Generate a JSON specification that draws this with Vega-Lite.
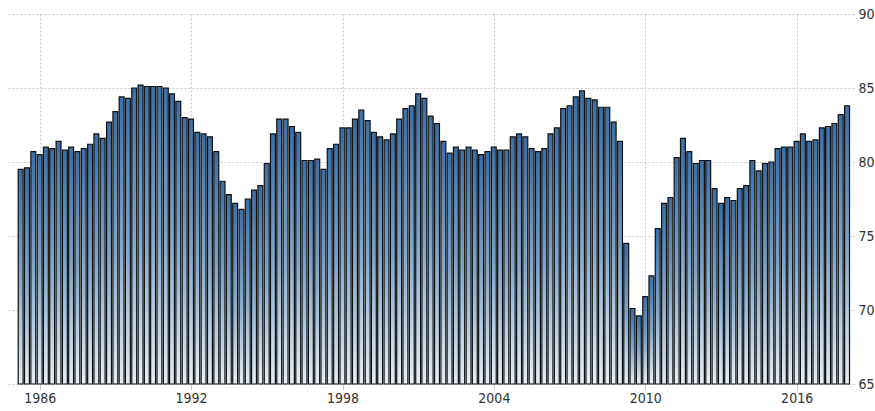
{
  "$schema": "https://vega.github.io/schema/vega-lite/v6.json",
  "autosize": {"type": "none"},
  "padding": {"left": 8, "top": 14, "right": 21, "bottom": 27},
  "width": 846,
  "height": 370,
  "background": "white",
  "config": {"view": {"stroke": null}},
  "data": {"values": [
    {"date":"1985-03-31","value":79.5},{"date":"1985-06-30","value":79.6},{"date":"1985-09-30","value":80.7},{"date":"1985-12-31","value":80.5},
    {"date":"1986-03-31","value":81.0},{"date":"1986-06-30","value":80.9},{"date":"1986-09-30","value":81.4},{"date":"1986-12-31","value":80.8},
    {"date":"1987-03-31","value":81.0},{"date":"1987-06-30","value":80.7},{"date":"1987-09-30","value":80.9},{"date":"1987-12-31","value":81.2},
    {"date":"1988-03-31","value":81.9},{"date":"1988-06-30","value":81.6},{"date":"1988-09-30","value":82.7},{"date":"1988-12-31","value":83.4},
    {"date":"1989-03-31","value":84.4},{"date":"1989-06-30","value":84.3},{"date":"1989-09-30","value":85.0},{"date":"1989-12-31","value":85.2},
    {"date":"1990-03-31","value":85.1},{"date":"1990-06-30","value":85.1},{"date":"1990-09-30","value":85.1},{"date":"1990-12-31","value":85.0},
    {"date":"1991-03-31","value":84.6},{"date":"1991-06-30","value":84.1},{"date":"1991-09-30","value":83.0},{"date":"1991-12-31","value":82.9},
    {"date":"1992-03-31","value":82.0},{"date":"1992-06-30","value":81.9},{"date":"1992-09-30","value":81.7},{"date":"1992-12-31","value":80.7},
    {"date":"1993-03-31","value":78.7},{"date":"1993-06-30","value":77.8},{"date":"1993-09-30","value":77.2},{"date":"1993-12-31","value":76.8},
    {"date":"1994-03-31","value":77.5},{"date":"1994-06-30","value":78.1},{"date":"1994-09-30","value":78.4},{"date":"1994-12-31","value":79.9},
    {"date":"1995-03-31","value":81.9},{"date":"1995-06-30","value":82.9},{"date":"1995-09-30","value":82.9},{"date":"1995-12-31","value":82.4},
    {"date":"1996-03-31","value":82.0},{"date":"1996-06-30","value":80.1},{"date":"1996-09-30","value":80.1},{"date":"1996-12-31","value":80.2},
    {"date":"1997-03-31","value":79.5},{"date":"1997-06-30","value":80.9},{"date":"1997-09-30","value":81.2},{"date":"1997-12-31","value":82.3},
    {"date":"1998-03-31","value":82.3},{"date":"1998-06-30","value":82.9},{"date":"1998-09-30","value":83.5},{"date":"1998-12-31","value":82.8},
    {"date":"1999-03-31","value":82.0},{"date":"1999-06-30","value":81.7},{"date":"1999-09-30","value":81.5},{"date":"1999-12-31","value":81.9},
    {"date":"2000-03-31","value":82.9},{"date":"2000-06-30","value":83.6},{"date":"2000-09-30","value":83.8},{"date":"2000-12-31","value":84.6},
    {"date":"2001-03-31","value":84.3},{"date":"2001-06-30","value":83.1},{"date":"2001-09-30","value":82.6},{"date":"2001-12-31","value":81.4},
    {"date":"2002-03-31","value":80.6},{"date":"2002-06-30","value":81.0},{"date":"2002-09-30","value":80.8},{"date":"2002-12-31","value":81.0},
    {"date":"2003-03-31","value":80.8},{"date":"2003-06-30","value":80.5},{"date":"2003-09-30","value":80.7},{"date":"2003-12-31","value":81.0},
    {"date":"2004-03-31","value":80.8},{"date":"2004-06-30","value":80.8},{"date":"2004-09-30","value":81.7},{"date":"2004-12-31","value":81.9},
    {"date":"2005-03-31","value":81.7},{"date":"2005-06-30","value":80.9},{"date":"2005-09-30","value":80.7},{"date":"2005-12-31","value":80.9},
    {"date":"2006-03-31","value":81.9},{"date":"2006-06-30","value":82.3},{"date":"2006-09-30","value":83.6},{"date":"2006-12-31","value":83.8},
    {"date":"2007-03-31","value":84.4},{"date":"2007-06-30","value":84.8},{"date":"2007-09-30","value":84.3},{"date":"2007-12-31","value":84.2},
    {"date":"2008-03-31","value":83.7},{"date":"2008-06-30","value":83.7},{"date":"2008-09-30","value":82.7},{"date":"2008-12-31","value":81.4},
    {"date":"2009-03-31","value":74.5},{"date":"2009-06-30","value":70.1},{"date":"2009-09-30","value":69.6},{"date":"2009-12-31","value":70.9},
    {"date":"2010-03-31","value":72.3},{"date":"2010-06-30","value":75.5},{"date":"2010-09-30","value":77.2},{"date":"2010-12-31","value":77.6},
    {"date":"2011-03-31","value":80.3},{"date":"2011-06-30","value":81.6},{"date":"2011-09-30","value":80.7},{"date":"2011-12-31","value":79.9},
    {"date":"2012-03-31","value":80.1},{"date":"2012-06-30","value":80.1},{"date":"2012-09-30","value":78.2},{"date":"2012-12-31","value":77.2},
    {"date":"2013-03-31","value":77.6},{"date":"2013-06-30","value":77.4},{"date":"2013-09-30","value":78.2},{"date":"2013-12-31","value":78.4},
    {"date":"2014-03-31","value":80.1},{"date":"2014-06-30","value":79.4},{"date":"2014-09-30","value":79.9},{"date":"2014-12-31","value":80.0},
    {"date":"2015-03-31","value":80.9},{"date":"2015-06-30","value":81.0},{"date":"2015-09-30","value":81.0},{"date":"2015-12-31","value":81.4},
    {"date":"2016-03-31","value":81.9},{"date":"2016-06-30","value":81.4},{"date":"2016-09-30","value":81.5},{"date":"2016-12-31","value":82.3},
    {"date":"2017-03-31","value":82.4},{"date":"2017-06-30","value":82.6},{"date":"2017-09-30","value":83.2},{"date":"2017-12-31","value":83.8}
  ]},
  "mark": {
    "type": "bar",
    "width": 4.9,
    "stroke": "#111111",
    "strokeWidth": 1.2,
    "fill": {
      "gradient": "linear",
      "x1": 0, "y1": 0, "x2": 0, "y2": 1,
      "stops": [
        {"offset": 0, "color": "#3a6ea6"},
        {"offset": 0.5, "color": "#7fa6cb"},
        {"offset": 1, "color": "#e6eef6"}
      ]
    }
  },
  "encoding": {
    "x": {
      "field": "date",
      "type": "temporal",
      "title": null,
      "scale": {
        "type": "utc",
        "domain": [
          {"year": 1984, "month": 12, "date": 10, "utc": true},
          {"year": 2018, "month": 1, "date": 28, "utc": true}
        ]
      },
      "axis": {
        "values": [
          {"year": 1986, "utc": true},
          {"year": 1992, "utc": true},
          {"year": 1998, "utc": true},
          {"year": 2004, "utc": true},
          {"year": 2010, "utc": true},
          {"year": 2016, "utc": true}
        ],
        "format": "%Y",
        "formatType": "utc",
        "grid": true,
        "gridColor": "#c8c8c8",
        "gridDash": [2, 2],
        "gridWidth": 1,
        "domain": false,
        "ticks": true,
        "tickColor": "#c8c8c8",
        "tickSize": 6,
        "labelPadding": 1,
        "labelFont": "Liberation Sans Narrow, DejaVu Sans Condensed, Arial Narrow, sans-serif",
        "labelFontSize": 14,
        "labelColor": "#333333",
        "labelFlush": false
      }
    },
    "y": {
      "field": "value",
      "type": "quantitative",
      "title": null,
      "scale": {"domain": [65, 90], "zero": false, "nice": false},
      "axis": {
        "orient": "right",
        "values": [65, 70, 75, 80, 85, 90],
        "grid": true,
        "gridColor": "#c8c8c8",
        "gridDash": [2, 2],
        "gridWidth": 1,
        "domain": false,
        "ticks": false,
        "labelPadding": 4,
        "labelFont": "Liberation Sans Narrow, DejaVu Sans Condensed, Arial Narrow, sans-serif",
        "labelFontSize": 14,
        "labelColor": "#333333",
        "labelFlush": false
      }
    },
    "y2": {"datum": 65}
  }
}
